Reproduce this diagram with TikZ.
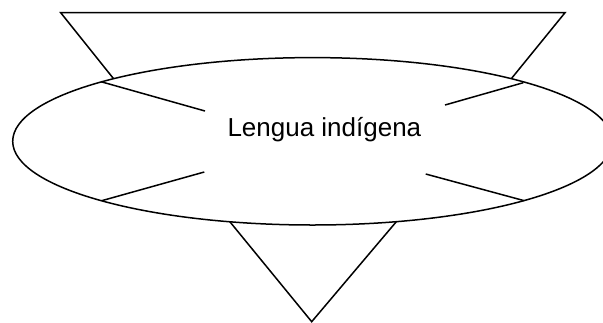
\documentclass[tikz,border=0pt]{standalone}
\usepackage{fontspec}
\setmainfont{Liberation Sans}
\usetikzlibrary{shapes.geometric}
\begin{document}
\begin{tikzpicture}[x=1pt,y=-1pt,
  ln/.style={line width=1.5pt,line join=miter},
  lbl/.style={font=\fontsize{26}{30}\selectfont,inner sep=0pt,anchor=base west}]
\useasboundingbox (0,0) rectangle (603,322);
\clip (0,0) rectangle (603,322);
% top triangle (lower part hidden by the ellipse)
\coordinate (t1) at (60.7,12.7);
\coordinate (t2) at (565,12.7);
\coordinate (t3) at (117,83);
\coordinate (t4) at (507.8,83);
\draw[ln] (t3) -- (t1) -- (t2) -- (t4);
% bottom triangle
\coordinate (b1) at (226,217);
\coordinate (b2) at (400.3,217);
\coordinate (b3) at (311.7,321.7);
\draw[ln] (b1) -- (b3) -- (b2);
% ellipse
\node[ellipse,draw,fill=white,line width=1.5pt,inner sep=0pt,
      minimum width=599.6pt,minimum height=167.4pt] (main) at (312.5,141.3) {};
% label
\node[lbl] (txt) at (227.3,136.5) {Lengua indígena};
% spokes
\coordinate (ulo) at (101,81.7);   \coordinate (uli) at (205,111);
\coordinate (uro) at (523.3,82.7); \coordinate (uri) at (445,105);
\coordinate (llo) at (101.7,200.7);\coordinate (lli) at (204.3,172);
\coordinate (lro) at (524.3,200.7);\coordinate (lri) at (425.7,174);
\draw[ln] (ulo) -- (uli);
\draw[ln] (uro) -- (uri);
\draw[ln] (llo) -- (lli);
\draw[ln] (lro) -- (lri);
\end{tikzpicture}
\end{document}
